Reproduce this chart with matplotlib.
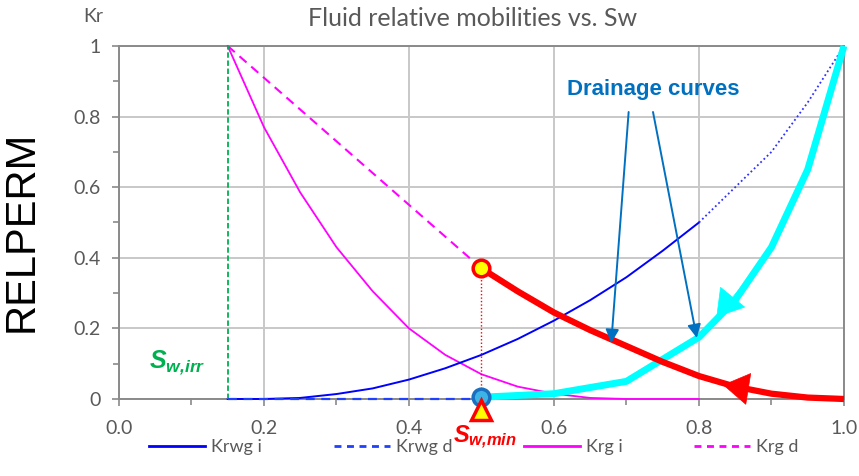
import numpy as np
import matplotlib
matplotlib.use("Agg")
import matplotlib.pyplot as plt
from matplotlib.lines import Line2D

# --- data ---
sw_krwg_i = [0.15, 0.2, 0.25, 0.3, 0.35, 0.4, 0.45, 0.5, 0.55, 0.6, 0.65, 0.7, 0.75, 0.8]
krwg_i = [0, 0, 0.003, 0.014, 0.03, 0.055, 0.087, 0.125, 0.17, 0.222, 0.28, 0.345, 0.42, 0.5]

sw_krwg_ext = [0.8, 0.85, 0.9, 0.95, 1.0]
krwg_ext = [0.5, 0.6, 0.7, 0.84, 1.0]

sw_krwg_d = [0.15, 0.5]
krwg_d = [0, 0]

sw_krg_i = [0.15, 0.2, 0.25, 0.3, 0.35, 0.4, 0.45, 0.5, 0.55, 0.6, 0.65, 0.7, 0.75, 0.8]
krg_i = [1.0, 0.77, 0.585, 0.43, 0.305, 0.2, 0.125, 0.07, 0.035, 0.015, 0.003, 0, 0, 0]

sw_krg_d = [0.15, 0.5]
krg_d = [1.0, 0.37]

# drainage curves (thick)
sw_gas_drain = [0.5, 0.55, 0.6, 0.65, 0.7, 0.75, 0.8, 0.85, 0.9, 0.95, 1.0]
krg_drain = [0.37, 0.305, 0.245, 0.195, 0.15, 0.105, 0.065, 0.035, 0.015, 0.004, 0.0]

sw_wat_drain = [0.5, 0.6, 0.7, 0.8, 0.85, 0.9, 0.95, 1.0]
krw_drain = [0.005, 0.015, 0.05, 0.175, 0.28, 0.43, 0.65, 1.0]

sw_irr = 0.15
sw_min = 0.5
krg_at_swmin = 0.37

x_ticks = [0.0, 0.2, 0.4, 0.6, 0.8, 1.0]
x_labels = ["0.0", "0.2", "0.4", "0.6", "0.8", "1.0"]
y_ticks = [0.0, 0.2, 0.4, 0.6, 0.8, 1.0]
y_labels = ["0", "0.2", "0.4", "0.6", "0.8", "1"]
minor_ticks = [0.1, 0.3, 0.5, 0.7, 0.9]

GRAY = "#595959"
AXC = "#8a8a8a"

plt.rcParams["mathtext.fontset"] = "custom"
plt.rcParams["mathtext.it"] = "Liberation Sans:italic:bold"
plt.rcParams["mathtext.rm"] = "Liberation Sans:italic:bold"

fig = plt.figure(figsize=(8.59, 4.76), dpi=100)
ax = fig.add_axes([0.1385, 0.1618, 0.844, 0.7416])

ax.set_xlim(0, 1)
ax.set_ylim(0, 1)
ax.set_xticks(x_ticks)
ax.set_xticklabels(x_labels)
ax.set_yticks(y_ticks)
ax.set_yticklabels(y_labels)
ax.set_xticks(minor_ticks, minor=True)
ax.set_yticks(minor_ticks, minor=True)
ax.grid(True, which="major", color="#c8c8c8", lw=1.4)
ax.set_axisbelow(True)
for s in ax.spines.values():
    s.set_color(AXC)
    s.set_linewidth(1.4)
ax.tick_params(which="both", color=AXC, width=1.2, labelcolor=GRAY)
ax.tick_params(which="major", length=5, labelsize=14)
ax.tick_params(axis="x", which="major", pad=10)
ax.tick_params(axis="y", which="major", pad=8)
ax.tick_params(which="minor", length=4)
for lab in ax.get_xticklabels() + ax.get_yticklabels():
    lab.set_family("Lato")

# curves
ax.plot(sw_krg_i, krg_i, color="#ff00ff", lw=1.3, zorder=3, clip_on=False)
ax.plot(sw_krg_d, krg_d, color="#ff00ff", lw=1.5, ls=(0, (4.5, 3)), zorder=3)
ax.plot(sw_krwg_i, krwg_i, color="#0000ff", lw=1.4, zorder=3, clip_on=False)
ax.plot(sw_krwg_d, krwg_d, color="#2040ff", lw=1.6, ls=(0, (4, 3)), zorder=3.1, clip_on=False)
ax.plot(sw_krwg_ext, krwg_ext, color="#3030ff", lw=1.3, ls=(0, (1, 1.5)), zorder=3)

ax.plot([sw_irr, sw_irr], [0, 1], color="#00b050", lw=1.3, ls=(0, (3, 1.5)), zorder=3)
ax.plot([sw_min, sw_min], [0, krg_at_swmin], color="#ff0000", lw=1.0, ls=(0, (1, 1.5)), zorder=3)

ax.plot(sw_wat_drain, krw_drain, color="#00ffff", lw=5, zorder=4, clip_on=False,
        solid_capstyle="butt")
ax.plot(sw_gas_drain, krg_drain, color="#ff0000", lw=4.5, zorder=4.2, clip_on=False,
        solid_capstyle="butt")

# arrow heads on the drainage curves
head = "-|>,head_length=0.45,head_width=0.28"
ax.annotate("", xy=(0.824, 0.232), xytext=(0.875, 0.36),
            arrowprops=dict(arrowstyle=head, mutation_scale=40, color="#00ffff",
                            lw=0.5, shrinkA=0, shrinkB=0), zorder=4.5)
ax.annotate("", xy=(0.833, 0.04), xytext=(0.9, 0.018),
            arrowprops=dict(arrowstyle=head, mutation_scale=40, color="#ff0000",
                            lw=0.5, shrinkA=0, shrinkB=0), zorder=4.5)

# markers
ax.plot([sw_min], [krg_at_swmin], "o", ms=12, mfc="#ffff00", mec="#ff0000", mew=2.5,
        zorder=5)
ax.plot([sw_min], [krwg_d[-1] + 0.005], "o", ms=12, mfc="#3cb4e6", mec="#1a6fc0", mew=2.5,
        zorder=5, clip_on=False)
ax.plot([sw_min], [-0.03], "^", ms=14, mfc="#ffff00", mec="#ff0000", mew=2.5,
        zorder=5, clip_on=False)

# annotations
ax.text(0.08, 0.102, r"$S_{w{,}irr}$", color="#00b050", fontsize=18,
        ha="center", va="center")
ax.text(0.505, -0.108, r"$S_{w{,}min}$", color="#ff0000", fontsize=17,
        ha="center", va="center", clip_on=False)

ax.text(0.737, 0.878, "Drainage curves", color="#0070c0", fontsize=16,
        fontweight="bold", family="Liberation Sans", ha="center", va="center")
for tip in [(0.679, 0.159), (0.797, 0.173)]:
    start = (0.703, 0.813) if tip[0] < 0.7 else (0.7366, 0.813)
    ax.annotate("", xy=tip, xytext=start,
                arrowprops=dict(arrowstyle="-|>", mutation_scale=20, color="#0070c0",
                                lw=1.4, shrinkA=0, shrinkB=0), zorder=6)

# titles
fig.text(473 / 859, 1 - 18 / 476, "Fluid relative mobilities vs. Sw", color=GRAY,
         fontsize=18, family="Lato", ha="center", va="center")
fig.text(93 / 859, 1 - 17 / 476, "Kr", color=GRAY, fontsize=14, family="Lato",
         ha="center", va="center")
fig.text(22 / 859, 1 - 231 / 476, "RELPERM", color="black", fontsize=30,
         family="Liberation Sans", rotation=90, ha="center", va="center")

handles = [
    Line2D([], [], color="#0000ff", lw=2),
    Line2D([], [], color="#2040ff", lw=2, ls=(0, (2.5, 2))),
    Line2D([], [], color="#ff00ff", lw=2),
    Line2D([], [], color="#ff00ff", lw=2, ls=(0, (2.5, 2))),
]
fig.legend(handles, ["Krwg i", "Krwg d", "Krg i", "Krg d"], loc="center",
           bbox_to_anchor=(474 / 859, 1 - 447 / 476), ncol=4, frameon=False,
           handlelength=3.1, columnspacing=3.95, handletextpad=0.35,
           prop={"family": "Lato", "size": 13}, labelcolor=GRAY)

fig.savefig("out.png", dpi=100)
